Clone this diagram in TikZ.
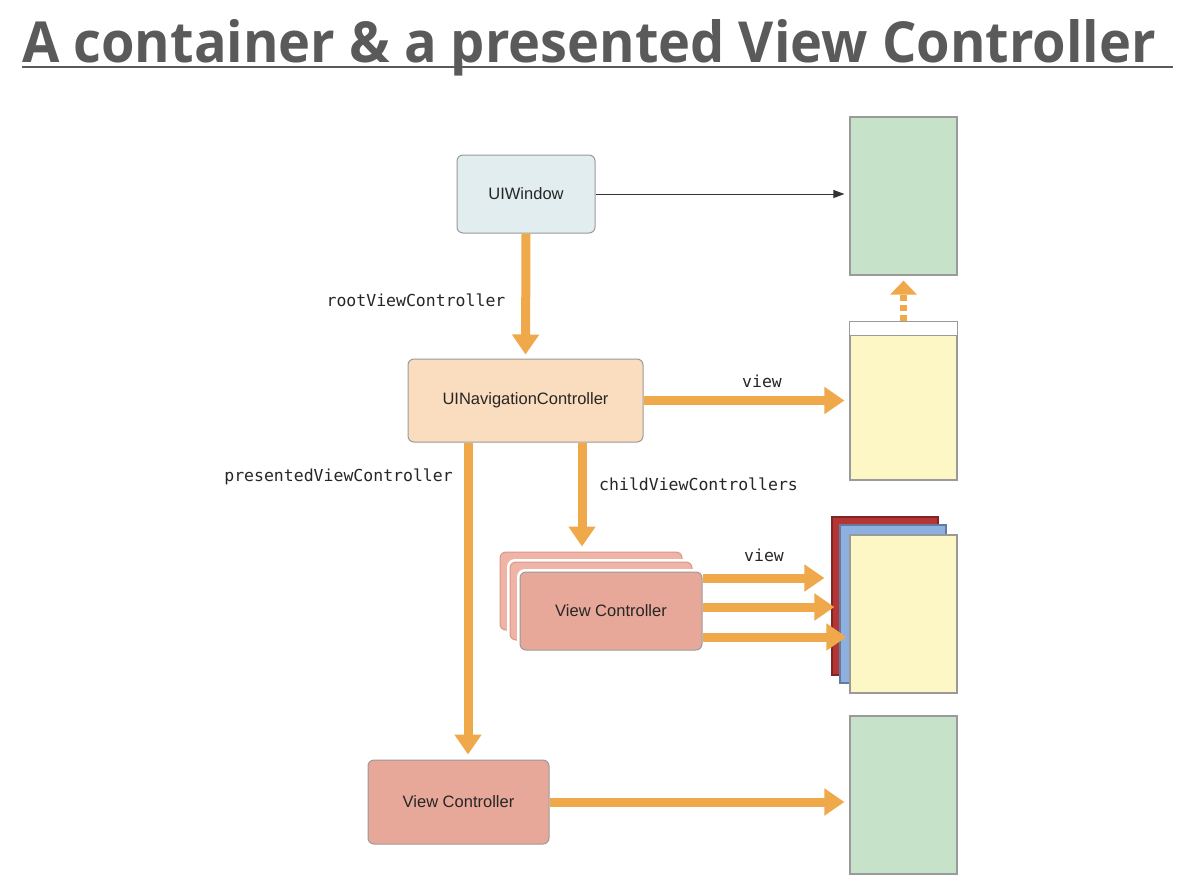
\documentclass[tikz,border=0pt]{standalone}
\usepackage{fontspec}
\setmainfont{Liberation Sans}
\newfontfamily\titlefont{Open Sans}
\newfontfamily\codefont{DejaVu Sans Mono}
\usetikzlibrary{arrows.meta}
\definecolor{orng}{HTML}{EFA94A}
\definecolor{winfill}{HTML}{E2EDEF}
\definecolor{navfill}{HTML}{FADCBE}
\definecolor{vcfill}{HTML}{E8A899}
\definecolor{vcback}{HTML}{EFB4A5}
\definecolor{vcedge}{HTML}{D89888}
\definecolor{grn}{HTML}{C6E3C9}
\definecolor{ylw}{HTML}{FDF7C5}
\definecolor{redv}{HTML}{B53535}
\definecolor{bluev}{HTML}{8EB0DF}
\definecolor{bordr}{HTML}{9A9A9A}
\definecolor{titlegray}{HTML}{5A5A5A}
\tikzset{
  box/.style={draw=bordr, line width=1pt, rounded corners=6pt, inner sep=0pt, font=\fontsize{16.5}{19}\selectfont, text=black!85},
  halo/.style={fill=white, rounded corners=8pt},
  screen/.style={draw=bordr, line width=1.2pt, inner sep=0pt, minimum width=107pt, minimum height=158pt},
  fat/.style={draw=orng, line width=9pt, -{Triangle[width=26pt,length=20pt]}, shorten >=5pt},
  code/.style={font=\codefont\fontsize{16.5}{18}\selectfont, text=black!85, inner sep=0pt}
}
\begin{document}
\begin{tikzpicture}[x=1pt,y=-1pt]
\useasboundingbox (0,0) rectangle (1194,884);
\fill[white] (0,0) rectangle (1194,884);
% title
\node[anchor=base west, inner sep=0pt, text=titlegray] (title) at (22,62)
  {\resizebox{1133pt}{43pt}{\titlefont\bfseries A container \& a presented View Controller}};
\draw[titlegray, line width=2pt] (22,67) -- (1173,67);

% screens
\node[screen, fill=grn] (green1) at (903.5,196) {};
\node[screen, fill=ylw] (yellow1) at (903.5,401) {};
\fill[white] (yellow1.north west) rectangle ([yshift=-14pt]yellow1.north east);
\draw[bordr, line width=1pt] ([yshift=-14pt]yellow1.north west) -- ([yshift=-14pt]yellow1.north east);
\draw[bordr, line width=1.2pt] (yellow1.north west) rectangle (yellow1.south east);
\node[screen, fill=redv, draw=redv!70!black, minimum width=106pt] (redv) at (885,596) {};
\node[screen, fill=bluev, draw=bluev!70!black, minimum width=106pt] (bluev) at (893,604) {};
\node[screen, fill=ylw] (yellow2) at (903.5,614) {};
\node[screen, fill=grn] (green2) at (903.5,795) {};

% controllers
\node[box, fill=winfill, minimum width=138pt, minimum height=78pt] (win) at (526,194) {UIWindow};
\node[box, fill=navfill, minimum width=235pt, minimum height=83pt] (nav) at (525.5,400.5) {UINavigationController};
\node[box, fill=vcback, draw=vcedge, minimum width=182pt, minimum height=78pt] (vcb3) at (591,591) {};
\fill[halo] ([shift={(-3pt,3pt)}]510,562) rectangle ([shift={(3pt,-3pt)}]692,640);
\node[box, fill=vcback, draw=vcedge, minimum width=182pt, minimum height=78pt] (vcb2) at (601,601) {};
\fill[halo] ([shift={(-3pt,3pt)}]520,572) rectangle ([shift={(3pt,-3pt)}]702,650);
\node[box, fill=vcfill, minimum width=182pt, minimum height=78pt] (vcf) at (611,611) {View Controller};
\node[box, fill=vcfill, minimum width=181pt, minimum height=84pt] (vcp) at (458.5,802) {View Controller};

% helper coordinates
\coordinate (cx) at (582,0);
\coordinate (px) at (468,0);
\coordinate (a1) at (0,578);
\coordinate (a2) at (0,607);
\coordinate (a3) at (0,637);

% connectors
\draw[black!80, line width=1pt, -{Triangle[width=8pt,length=11pt]}, shorten >=5pt] (win.east) -- (win.east -| green1.west);
\draw[fat, shorten >=4pt] (win.south) -- (nav.north);
\draw[fat] (nav.east) -- (nav.east -| yellow1.west);
\draw[fat] (nav.south -| cx) -- (vcb3.north -| cx);
\draw[fat] (nav.south -| px) -- (vcp.north -| px);
\draw[fat, shorten >=7pt] (a1 -| vcf.east) -- (a1 -| redv.west);
\draw[fat, shorten >=5pt] (a2 -| vcf.east) -- (a2 -| bluev.west);
\draw[fat, shorten >=3pt] (a3 -| vcf.east) -- (a3 -| yellow2.west);
\draw[fat] (vcp.east) -- (vcp.east -| green2.west);
\draw[fat, line width=7pt, dash pattern=on 6pt off 4pt, -{Triangle[width=26pt,length=14pt]}, shorten >=5pt] (yellow1.north) -- (green1.south);

% labels
\node[code] (lroot) at (416,300) {rootViewController};
\node[code] (lview1) at (762,381) {view};
\node[code, anchor=west] (lchild) at (599,484) {childViewControllers};
\node[code, anchor=east] (lpres) at (453,477) {presentedViewController};
\node[code] (lview2) at (764,555) {view};
\end{tikzpicture}
\end{document}
